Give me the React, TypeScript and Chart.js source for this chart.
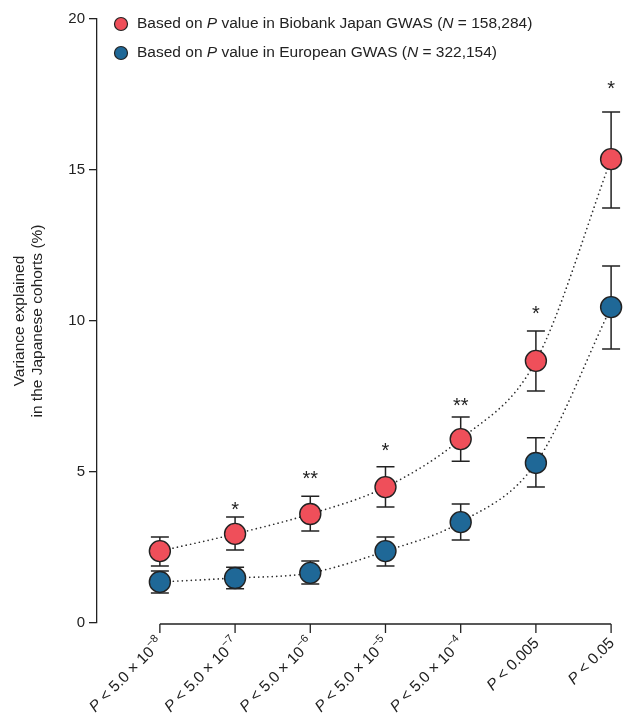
import React, { useEffect, useRef } from "react";
import { Chart, registerables } from "chart.js";

Chart.register(...registerables);

// ---------- data ----------
const categoryIndex = [0, 1, 2, 3, 4, 5, 6];
const xLabelMain = ["< 5.0 × 10", "< 5.0 × 10", "< 5.0 × 10", "< 5.0 × 10", "< 5.0 × 10", "< 0.005", "< 0.05"];
const xLabelExp = ["−8", "−7", "−6", "−5", "−4", "", ""];

const japanValues = [2.38, 2.95, 3.61, 4.5, 6.09, 8.68, 15.36];
const japanUpper = [2.85, 3.51, 4.2, 5.17, 6.82, 9.67, 16.92];
const japanLower = [1.89, 2.42, 3.05, 3.84, 5.36, 7.68, 13.74];

const europeValues = [1.36, 1.49, 1.66, 2.38, 3.34, 5.3, 10.46];
const europeUpper = [1.72, 1.85, 2.05, 2.85, 3.94, 6.13, 11.82];
const europeLower = [0.99, 1.13, 1.29, 1.89, 2.75, 4.5, 9.07];

const significance = ["", "*", "**", "*", "**", "*", "*"];
const significanceY = [0, 3.91, 4.93, 5.86, 7.35, 10.4, 17.85];

const yTicks = [0, 5, 10, 15, 20];
const yTitle = ["Variance explained", "in the Japanese cohorts (%)"];

// legend text segments: [text, italic]
const legendJapan: [string, boolean][] = [
  ["Based on ", false],
  ["P", true],
  [" value in Biobank Japan GWAS (", false],
  ["N", true],
  [" = 158,284)", false],
];
const legendEurope: [string, boolean][] = [
  ["Based on ", false],
  ["P", true],
  [" value in European GWAS (", false],
  ["N", true],
  [" = 322,154)", false],
];

const RED = "#EF4F5A";
const BLUE = "#1F6897";
const INK = "#222222";
const FONT = '"Liberation Sans", Arial, Helvetica, sans-serif';

const errorBars: Record<number, { upper: number[]; lower: number[] }> = {
  0: { upper: japanUpper, lower: japanLower },
  1: { upper: europeUpper, lower: europeLower },
};

const overlayPlugin = {
  id: "overlay",
  beforeDatasetDraw(chart: any, args: any) {
    const eb = errorBars[args.index];
    if (!eb) return;
    const { ctx } = chart;
    const xs = chart.scales.x;
    const ys = chart.scales.y;
    ctx.save();
    ctx.strokeStyle = INK;
    ctx.lineWidth = 1.5;
    categoryIndex.forEach((c, i) => {
      const px = xs.getPixelForValue(c);
      const top = ys.getPixelForValue(eb.upper[i]);
      const bot = ys.getPixelForValue(eb.lower[i]);
      const hw = 9;
      ctx.beginPath();
      ctx.moveTo(px, top);
      ctx.lineTo(px, bot);
      ctx.moveTo(px - hw, top);
      ctx.lineTo(px + hw, top);
      ctx.moveTo(px - hw, bot);
      ctx.lineTo(px + hw, bot);
      ctx.stroke();
    });
    ctx.restore();
  },
  afterDraw(chart: any) {
    const { ctx, chartArea } = chart;
    const xs = chart.scales.x;
    const ys = chart.scales.y;
    ctx.save();

    // x axis line + ticks
    const axisY = ys.getPixelForValue(0) + 1;
    const x0 = xs.getPixelForValue(categoryIndex[0]);
    const x1 = xs.getPixelForValue(categoryIndex[categoryIndex.length - 1]);
    ctx.strokeStyle = INK;
    ctx.lineWidth = 1.3;
    ctx.beginPath();
    ctx.moveTo(x0, axisY);
    ctx.lineTo(x1, axisY);
    categoryIndex.forEach((c) => {
      const px = xs.getPixelForValue(c);
      ctx.moveTo(px, axisY);
      ctx.lineTo(px, axisY + 9);
    });
    ctx.stroke();

    // x labels (rotated, with superscripts)
    ctx.fillStyle = INK;
    categoryIndex.forEach((c, i) => {
      const px = xs.getPixelForValue(c);
      const mainFont = `15.5px ${FONT}`;
      const italFont = `italic 15.5px ${FONT}`;
      const expFont = `11px ${FONT}`;
      ctx.font = expFont;
      const expW = xLabelExp[i] ? ctx.measureText(xLabelExp[i]).width : 0;
      ctx.font = mainFont;
      const mainW = ctx.measureText(" " + xLabelMain[i]).width;
      ctx.font = italFont;
      const pW = ctx.measureText("P").width;
      ctx.save();
      ctx.translate(px + 1, axisY + 17);
      ctx.rotate(-Math.PI / 4);
      ctx.textBaseline = "middle";
      ctx.textAlign = "left";
      let x = -(expW + mainW + pW);
      ctx.font = italFont;
      ctx.fillText("P", x, 0);
      x += pW;
      ctx.font = mainFont;
      ctx.fillText(" " + xLabelMain[i], x, 0);
      x += mainW;
      if (xLabelExp[i]) {
        ctx.font = expFont;
        ctx.fillText(xLabelExp[i], x, -6);
      }
      ctx.restore();
    });

    // significance asterisks
    ctx.font = `20px ${FONT}`;
    ctx.textAlign = "center";
    ctx.textBaseline = "alphabetic";
    categoryIndex.forEach((c, i) => {
      if (!significance[i]) return;
      const px = xs.getPixelForValue(c);
      const py = ys.getPixelForValue(significanceY[i]);
      ctx.fillText(significance[i], px, py + 11);
    });

    // y title
    ctx.save();
    ctx.font = `15.5px ${FONT}`;
    ctx.textAlign = "center";
    ctx.textBaseline = "middle";
    const cy = (chartArea.top + chartArea.bottom) / 2;
    [20, 38].forEach((tx, k) => {
      ctx.save();
      ctx.translate(tx, cy);
      ctx.rotate(-Math.PI / 2);
      ctx.fillText(yTitle[k], 0, 0);
      ctx.restore();
    });
    ctx.restore();

    // legend
    const entries: [string, [string, boolean][], number][] = [
      [RED, legendJapan, 24],
      [BLUE, legendEurope, 53],
    ];
    entries.forEach(([color, segs, ly]) => {
      ctx.beginPath();
      ctx.arc(121, ly, 6.5, 0, Math.PI * 2);
      ctx.fillStyle = color;
      ctx.fill();
      ctx.lineWidth = 1.2;
      ctx.strokeStyle = INK;
      ctx.stroke();
      ctx.fillStyle = INK;
      ctx.textAlign = "left";
      ctx.textBaseline = "middle";
      let tx = 137;
      segs.forEach(([t, it]) => {
        ctx.font = `${it ? "italic " : ""}15.5px ${FONT}`;
        ctx.fillText(t, tx, ly);
        tx += ctx.measureText(t).width;
      });
    });

    ctx.restore();
  },
};

export default function App() {
  const ref = useRef<HTMLCanvasElement | null>(null);

  useEffect(() => {
    document.body.style.margin = "0";
    const canvas = ref.current;
    if (!canvas) return;
    const toPts = (vals: number[]) => categoryIndex.map((c, i) => ({ x: c, y: vals[i] }));
    const pointStyle = (color: string) => ({
      showLine: false,
      pointRadius: 10.5,
      pointBackgroundColor: color,
      pointBorderColor: INK,
      pointBorderWidth: 1.4,
      order: 1,
      clip: false as any,
    });
    const lineStyle = {
      pointRadius: 0,
      borderColor: "#2e2e2e",
      borderWidth: 1.7,
      borderDash: [0, 4.5],
      borderCapStyle: "round" as const,
      cubicInterpolationMode: "monotone" as const,
      fill: false,
      order: 2,
      clip: false as any,
    };
    const chart = new Chart(canvas, {
      type: "line",
      data: {
        datasets: [
          { label: "Japan", data: toPts(japanValues), ...pointStyle(RED) },
          { label: "Europe", data: toPts(europeValues), ...pointStyle(BLUE) },
          { label: "Japan line", data: toPts(japanValues), ...lineStyle },
          { label: "Europe line", data: toPts(europeValues), ...lineStyle },
        ],
      },
      options: {
        responsive: false,
        animation: false,
        devicePixelRatio: 1,
        layout: { padding: { top: 19, right: 11, left: 0, bottom: 0 } },
        plugins: { legend: { display: false }, tooltip: { enabled: false } },
        events: [],
        scales: {
          x: {
            type: "linear",
            min: -0.836,
            max: 6,
            grid: { display: false },
            border: { display: false },
            ticks: { display: false },
            afterFit: (s: any) => {
              s.height = 98;
            },
          },
          y: {
            type: "linear",
            min: 0,
            max: 20,
            afterBuildTicks: (s: any) => {
              s.ticks = yTicks.map((v) => ({ value: v }));
            },
            grid: {
              drawOnChartArea: false,
              drawTicks: true,
              tickLength: 8,
              color: INK,
              lineWidth: 1.3,
            },
            border: { display: true, color: INK, width: 1.3 },
            ticks: {
              font: { family: FONT, size: 15 },
              color: INK,
              padding: 4,
            },
            afterFit: (s: any) => {
              s.width = 97;
            },
          },
        },
      },
      plugins: [overlayPlugin],
    });
    return () => chart.destroy();
  }, []);

  return (
    <div style={{ width: 623, height: 721 }}>
      <canvas ref={ref} width={623} height={721} style={{ display: "block" }} />
    </div>
  );
}
